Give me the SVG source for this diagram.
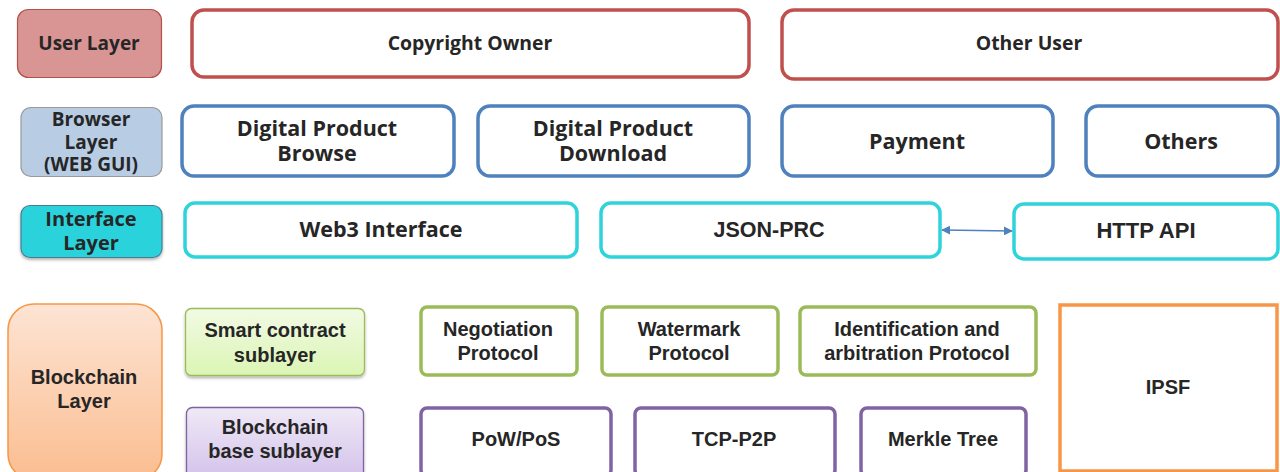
<svg xmlns="http://www.w3.org/2000/svg" width="1280" height="472" viewBox="0 0 1280 472">
<style>
.seg{font-family:"Open Sans","Noto Sans","DejaVu Sans",sans-serif;font-weight:bold;fill:#262626;text-anchor:middle}
.ar{font-family:"Liberation Sans",Arial,sans-serif;font-weight:bold;fill:#262626;text-anchor:middle}
.red{fill:#fff;stroke:#c0504d;stroke-width:3.5}
.blue{fill:#fff;stroke:#4f81bd;stroke-width:3.5}
.cyan{fill:#fff;stroke:#2ed3db;stroke-width:3.5}
.green{fill:#fff;stroke:#9bbb59;stroke-width:3.5}
.purple{fill:#fff;stroke:#8064a2;stroke-width:3.5}
</style>
<defs>
<linearGradient id="gOrange" x1="0" y1="0" x2="0" y2="1"><stop offset="0" stop-color="#fde4d4"/><stop offset="1" stop-color="#fbbd90"/></linearGradient>
<linearGradient id="gGreen" x1="0" y1="0" x2="0" y2="1"><stop offset="0" stop-color="#f2fae4"/><stop offset="1" stop-color="#dbf5b4"/></linearGradient>
<linearGradient id="gPurple" x1="0" y1="0" x2="0" y2="1"><stop offset="0" stop-color="#efe9f6"/><stop offset="1" stop-color="#d4c3eb"/></linearGradient>
<filter id="sh" x="-10%" y="-10%" width="120%" height="130%"><feDropShadow dx="0" dy="2" stdDeviation="1.5" flood-color="#000" flood-opacity="0.3"/></filter>
<marker id="ah" viewBox="0 0 10 10" refX="9" refY="5" markerWidth="9" markerHeight="9" markerUnits="userSpaceOnUse" orient="auto-start-reverse"><path d="M0,0 L10,5 L0,10 z" fill="#4f81bd"/></marker>
</defs>

<g id="user-layer"><rect x="17.5" y="9.5" width="144" height="68" rx="11" fill="#d99594" stroke="#b5504c" stroke-width="1.2"/><text class="seg" x="89" y="50" font-size="19">User Layer</text></g>
<g id="copyright-owner"><rect class="red" x="192" y="10" width="557" height="67" rx="12"/><text class="seg" x="470" y="50" font-size="19.4">Copyright Owner</text></g>
<g id="other-user"><rect class="red" x="782" y="10" width="496" height="69" rx="12"/><text class="seg" x="1029" y="50" font-size="19.4">Other User</text></g>

<g id="browser-layer"><rect x="21" y="107.5" width="141" height="69" rx="10" fill="#b8cce4" stroke="#999" stroke-width="1.2"/><text class="seg" x="91" y="126" font-size="19">Browser</text><text class="seg" x="91" y="149" font-size="19">Layer</text><text class="seg" x="91" y="171" font-size="19">(WEB GUI)</text></g>
<g id="dp-browse"><rect class="blue" x="182" y="106" width="272" height="70" rx="12"/><text class="seg" x="317" y="136" font-size="21.5">Digital Product</text><text class="seg" x="317" y="161" font-size="21.5">Browse</text></g>
<g id="dp-download"><rect class="blue" x="478" y="106" width="271" height="70" rx="12"/><text class="seg" x="613" y="136" font-size="21.5">Digital Product</text><text class="seg" x="613" y="161" font-size="21.5">Download</text></g>
<g id="payment"><rect class="blue" x="782" y="106" width="271" height="70" rx="12"/><text class="seg" x="917" y="149" font-size="21.5">Payment</text></g>
<g id="others"><rect class="blue" x="1086" y="106" width="192" height="70" rx="12"/><text class="seg" x="1181" y="149" font-size="21.5">Others</text></g>

<g id="interface-layer"><rect x="21" y="205.5" width="141" height="52" rx="9" fill="#2bd3dc" stroke="#4a7d90" stroke-width="1.2" filter="url(#sh)"/><text class="seg" x="91" y="226" font-size="20">Interface</text><text class="seg" x="91" y="250" font-size="20">Layer</text></g>
<g id="web3"><rect class="cyan" x="185" y="203" width="392" height="54" rx="10"/><text class="seg" x="381" y="237" font-size="21.5">Web3 Interface</text></g>
<g id="json-prc"><rect class="cyan" x="601" y="203" width="339" height="54" rx="10"/><text class="ar" x="769" y="237" font-size="21.5">JSON-PRC</text></g>
<g id="http-api"><rect class="cyan" x="1014" y="204" width="264" height="55" rx="10"/><text class="ar" x="1146" y="238" font-size="22">HTTP API</text></g>

<g id="connectors"><line x1="942" y1="230" x2="1012" y2="231" stroke="#4f81bd" stroke-width="1.3" marker-start="url(#ah)" marker-end="url(#ah)"/></g>

<g id="blockchain-layer"><rect x="8" y="304" width="154" height="176" rx="26" fill="url(#gOrange)" stroke="#f79646" stroke-width="1.5"/><text class="ar" x="84" y="384" font-size="20">Blockchain</text><text class="ar" x="84" y="408" font-size="20">Layer</text></g>
<g id="smart-contract"><rect x="185.5" y="308.5" width="179" height="67" rx="6" fill="url(#gGreen)" stroke="#9bbb59" stroke-width="1.3" filter="url(#sh)"/><text class="ar" x="275" y="337" font-size="20">Smart contract</text><text class="ar" x="275" y="362" font-size="20">sublayer</text></g>
<g id="base-sublayer"><rect x="186.5" y="407.5" width="177" height="70" rx="6" fill="url(#gPurple)" stroke="#8064a2" stroke-width="1.3" filter="url(#sh)"/><text class="ar" x="275" y="434" font-size="20">Blockchain</text><text class="ar" x="275" y="458" font-size="20">base sublayer</text></g>
<g id="negotiation"><rect class="green" x="421" y="307" width="156" height="68" rx="6"/><text class="ar" x="498" y="336" font-size="20">Negotiation</text><text class="ar" x="498" y="360" font-size="20">Protocol</text></g>
<g id="watermark"><rect class="green" x="602" y="307" width="176" height="68" rx="6"/><text class="ar" x="689" y="336" font-size="20">Watermark</text><text class="ar" x="689" y="360" font-size="20">Protocol</text></g>
<g id="identification"><rect class="green" x="800" y="307" width="236" height="68" rx="6"/><text class="ar" x="917" y="336" font-size="20">Identification and</text><text class="ar" x="917" y="360" font-size="20">arbitration Protocol</text></g>
<g id="ipsf"><rect x="1060" y="305" width="217" height="166" fill="#fff" stroke="#f79646" stroke-width="3.5"/><text class="ar" x="1168" y="394" font-size="20">IPSF</text></g>
<g id="pow-pos"><rect class="purple" x="421" y="408" width="190" height="68" rx="6"/><text class="ar" x="516" y="446" font-size="20">PoW/PoS</text></g>
<g id="tcp-p2p"><rect class="purple" x="635" y="408" width="200" height="68" rx="6"/><text class="ar" x="734" y="446" font-size="20">TCP-P2P</text></g>
<g id="merkle"><rect class="purple" x="861" y="408" width="165" height="68" rx="6"/><text class="ar" x="943" y="446" font-size="20">Merkle Tree</text></g>
</svg>
